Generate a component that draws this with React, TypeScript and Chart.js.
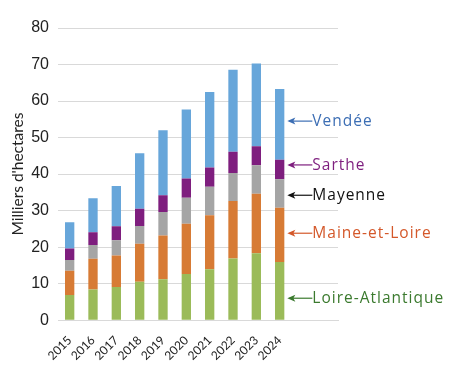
import React, { useEffect, useRef } from "react";
import { Chart, registerables } from "chart.js";

Chart.register(...registerables);

const years = ["2015", "2016", "2017", "2018", "2019", "2020", "2021", "2022", "2023", "2024"];
const spacerLabels = ["", ""];
const loireAtlantique = [6.9, 8.4, 9.1, 10.5, 11.2, 12.6, 13.9, 16.9, 18.3, 15.9];
const maineEtLoire = [6.6, 8.4, 8.6, 10.4, 12.0, 13.8, 14.8, 15.7, 16.3, 14.9];
const mayenne = [3.0, 3.8, 4.2, 4.9, 6.4, 7.1, 7.8, 7.7, 7.8, 7.8];
const sarthe = [3.1, 3.5, 3.8, 4.7, 4.6, 5.3, 5.3, 5.8, 5.2, 5.3];
const vendee = [7.2, 9.3, 11.0, 15.2, 17.8, 18.9, 20.7, 22.5, 22.7, 19.4];
const seriesNames = ["Loire-Atlantique", "Maine-et-Loire", "Mayenne", "Sarthe", "Vendée"];
const seriesColors = ["#9BBB59", "#D77B35", "#A5A5A5", "#7E1E7E", "#67A6DA"];
const labelColors = ["#3B7A2E", "#D4582A", "#111111", "#7E1E7E", "#3C6EB4"];
const labelYs = [6.0, 23.8, 34.2, 42.5, 54.5];
const yTitle = "Milliers d'hectares";

const sideLabels = {
  id: "sideLabels",
  afterDatasetsDraw(chart: any) {
    const ctx = chart.ctx;
    const y = chart.scales.y;
    const meta = chart.getDatasetMeta(0);
    const last = meta.data[years.length - 1];
    const barRight = last.x + last.width / 2;
    const tip = barRight + 3;
    ctx.save();
    ctx.font = "15.5px 'Open Sans'";
    (ctx as any).letterSpacing = "1px";
    ctx.textBaseline = "middle";
    ctx.textAlign = "left";
    seriesNames.forEach((name, i) => {
      const py = y.getPixelForValue(labelYs[i]);
      const col = labelColors[i];
      ctx.strokeStyle = col;
      ctx.fillStyle = col;
      ctx.lineWidth = 1.2;
      ctx.beginPath();
      ctx.moveTo(tip + 2, py);
      ctx.lineTo(tip + 25, py);
      ctx.stroke();
      ctx.beginPath();
      ctx.moveTo(tip, py);
      ctx.lineTo(tip + 8, py - 3.5);
      ctx.lineTo(tip + 6, py);
      ctx.lineTo(tip + 8, py + 3.5);
      ctx.closePath();
      ctx.fill();
      ctx.fillText(name, tip + 25, py + 0.5);
    });
    ctx.restore();
  },
};

export default function App() {
  const ref = useRef<HTMLCanvasElement>(null);
  useEffect(() => {
    document.body.style.margin = "0";
    const data = [loireAtlantique, maineEtLoire, mayenne, sarthe, vendee];
    const chart = new Chart(ref.current!, {
      type: "bar",
      data: {
        labels: [...years, ...spacerLabels],
        datasets: seriesNames.map((n, i) => ({
          label: n,
          data: data[i],
          backgroundColor: seriesColors[i],
          borderWidth: 0,
          barPercentage: 0.4,
          categoryPercentage: 1,
        })),
      },
      options: {
        animation: false,
        responsive: false,
        maintainAspectRatio: false,
        layout: { padding: { top: 28, right: 112, left: 0, bottom: 0 } },
        plugins: { legend: { display: false }, tooltip: { enabled: false } },
        scales: {
          x: {
            stacked: true,
            grid: { display: false },
            border: { display: true, color: "#D9D9D9" },
            ticks: {
              minRotation: 45,
              maxRotation: 45,
              autoSkip: false,
              color: "#222",
              font: { family: "Lato", size: 12 },
              padding: 5,
            },
          },
          y: {
            stacked: true,
            min: 0,
            max: 80,
            afterFit(scale: any) {
              scale.width = 58;
            },
            grid: { color: "#D9D9D9", drawTicks: false },
            border: { display: false },
            ticks: {
              stepSize: 10,
              color: "#222",
              font: { family: "Liberation Sans", size: 16 },
              padding: 9,
            },
            title: {
              display: true,
              text: yTitle,
              color: "#222",
              font: { family: "Lato", size: 15.5 },
              padding: { top: 9, bottom: 0 },
            },
          },
        },
      },
      plugins: [sideLabels],
    });
    return () => chart.destroy();
  }, []);
  return <canvas ref={ref} width={450} height={368} style={{ display: "block" }} />;
}
